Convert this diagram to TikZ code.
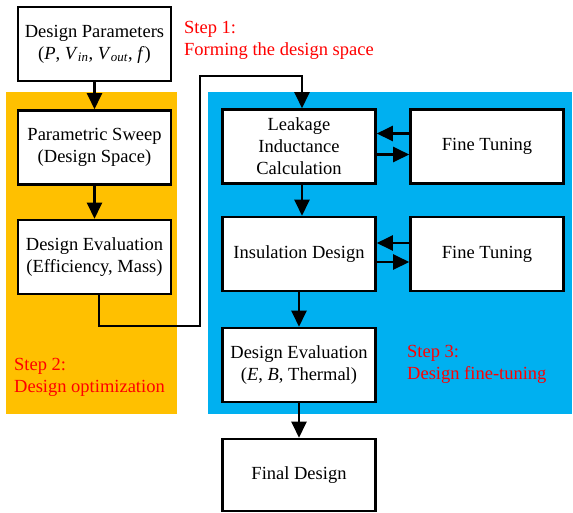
\documentclass[tikz,border=0pt]{standalone}
\usepackage{fontspec}
\setmainfont{Liberation Serif}
\usetikzlibrary{arrows.meta,calc}
\definecolor{stepOrange}{HTML}{FFC000}
\definecolor{stepBlue}{HTML}{00B0F0}
\tikzset{
  blk/.style={draw=black, fill=white, line width=2.6pt, rectangle, inner sep=2pt,
    align=center, font=\fontsize{18.5}{22}\selectfont},
  wideblk/.style={blk, minimum width=153pt, minimum height=74pt},
  flow/.style={line width=2.4pt, -{Triangle[length=16pt,width=15pt]}},
  steplabel/.style={text=red, align=left, anchor=west, inner sep=0pt,
    font=\fontsize{18.5}{22}\selectfont}
}
\begin{document}
\begin{tikzpicture}[x=1pt,y=-1pt]
\useasboundingbox (0,0) rectangle (573,512);
% coloured stage regions
\fill[stepOrange] (6,92) rectangle (177,414);
\fill[stepBlue] (208,92) rectangle (572,414);

% Step 1 / Step 2 blocks
\node[wideblk] (dp)  at (94.5,44)  {Design Parameters\\(\textit{P}, \textit{V}\textsubscript{\textit{in}}, \textit{V}\textsubscript{\textit{out}}, \textit{f})};
\node[wideblk] (ps)  at (94.5,147.5) {Parametric Sweep\\(Design Space)};
\node[wideblk] (de1) at (94.5,257) {Design Evaluation\\(Efficiency, Mass)};

% Step 3 blocks
\node[wideblk] (lic) at (299,146.5) {Leakage\\Inductance\\Calculation};
\node[wideblk] (ft1) at (487,146.5) {Fine Tuning};
\node[wideblk] (ins) at (299,254) {Insulation Design};
\node[wideblk] (ft2) at (487,254) {Fine Tuning};
\node[wideblk] (de2) at (299,365) {Design Evaluation\\(\textit{E}, \textit{B}, Thermal)};
\node[wideblk, minimum height=72pt] (fd) at (299,475) {Final Design};

% stage labels
\node[steplabel] (s1) at (184,40)  {Step 1:\\Forming the design space};
\node[steplabel] (s2) at (14,377.5) {Step 2:\\Design optimization};
\node[steplabel] (s3) at (407,364.5) {Step 3:\\Design fine-tuning};

% connectors
\draw[flow] (dp) -- (ps);
\draw[flow] (ps) -- (de1);
\coordinate (c1) at (99,326);
\coordinate (c2) at (200,76);
\coordinate (c3) at (302,0);
\draw[flow] (de1.south -| c1) -- (c1) -| (c2) -| (lic.north -| c3);
\draw[flow] (lic.south -| c3) -- (ins.north -| c3);
\draw[flow] (ins) -- (de2);
\draw[flow] (de2) -- (fd);
\draw[flow] ([yshift=13pt]ft1.west) -- ([yshift=13pt]lic.east);
\draw[flow] ([yshift=-8pt]lic.east) -- ([yshift=-8pt]ft1.west);
\draw[flow] ([yshift=11pt]ft2.west) -- ([yshift=11pt]ins.east);
\draw[flow] ([yshift=-8pt]ins.east) -- ([yshift=-8pt]ft2.west);
\end{tikzpicture}
\end{document}
